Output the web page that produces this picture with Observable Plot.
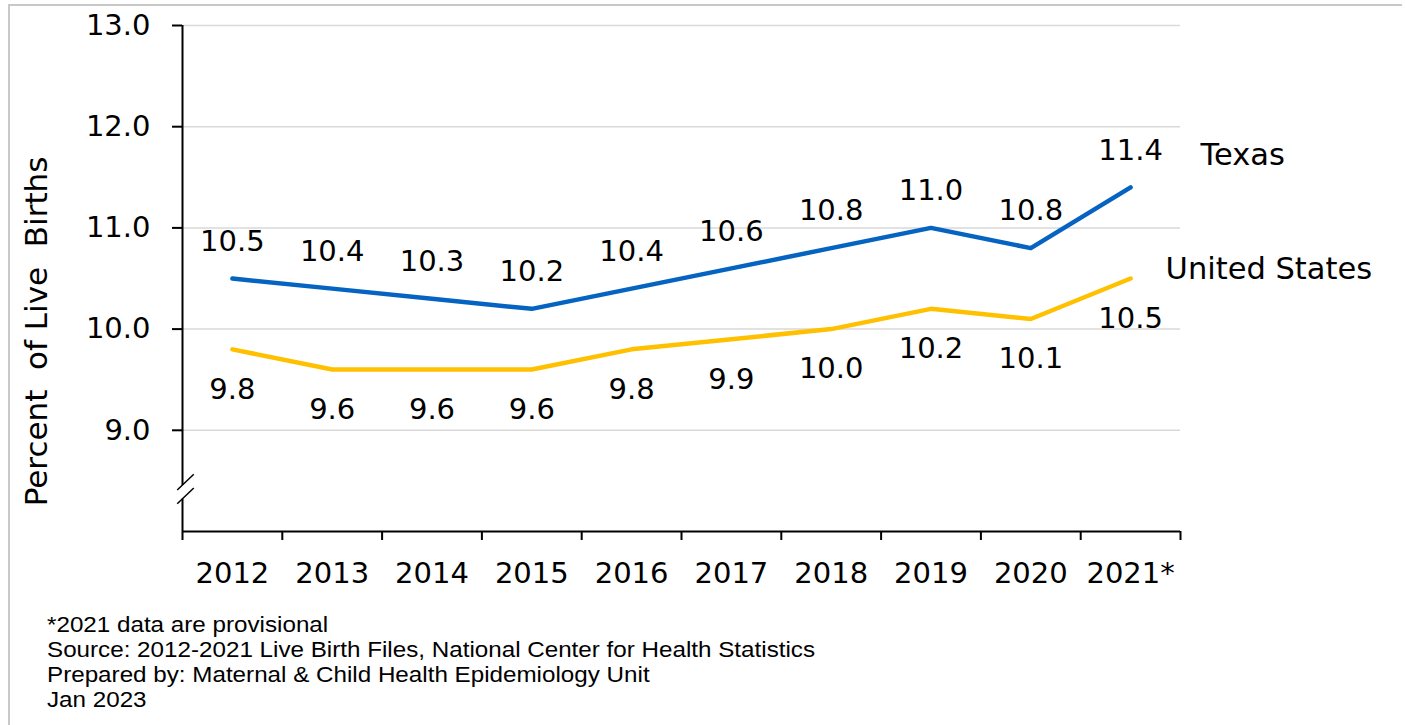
<!DOCTYPE html>
<html><head><meta charset="utf-8">
<script src="https://cdn.jsdelivr.net/npm/d3@7"></script>
<script src="https://cdn.jsdelivr.net/npm/@observablehq/plot@0.6"></script>
<style>
body{margin:0;background:#fff;}
#wrap{position:relative;width:1406px;height:725px;overflow:hidden;background:#fff;}
#frame{position:absolute;left:8px;top:4px;right:4px;bottom:-10px;border-top:2px solid #c8c8c8;border-left:2px solid #c8c8c8;}
#chart{position:absolute;left:0;top:0;}
#caption{position:absolute;left:47px;top:612px;font-family:"Liberation Sans",Arial,sans-serif;font-size:22px;line-height:25px;color:#000;white-space:nowrap;transform:scaleX(1.1);transform-origin:0 0;}
</style></head>
<body><div id="wrap"><div id="frame"></div><div id="chart"></div><div id="caption"></div></div>
<script>
const years = [2012, 2013, 2014, 2015, 2016, 2017, 2018, 2019, 2020, 2021];
const yearLabels = ["2012", "2013", "2014", "2015", "2016", "2017", "2018", "2019", "2020", "2021*"];
const texas = [10.5, 10.4, 10.3, 10.2, 10.4, 10.6, 10.8, 11.0, 10.8, 11.4];
const unitedStates = [9.8, 9.6, 9.6, 9.6, 9.8, 9.9, 10.0, 10.2, 10.1, 10.5];
const seriesNames = ["Texas", "United States"];
const seriesColors = ["#0563C1", "#FFC000"];
const yTicks = [9, 10, 11, 12, 13];
const yDomain = [8, 13];
const yTitle = "Percent  of Live  Births";
const captionLines = [
  "*2021 data are provisional",
  "Source: 2012-2021  Live Birth Files, National Center for Health Statistics",
  "Prepared by: Maternal & Child Health Epidemiology Unit",
  "Jan 2023"
];
// axis break (data units)
const breakLow = 8.32, breakHigh = 8.455;

const texasRows = years.map((y, i) => ({year: y, value: texas[i], series: seriesNames[0]}));
const usRows = years.map((y, i) => ({year: y, value: unitedStates[i], series: seriesNames[1]}));
const rows = texasRows.concat(usRows);
const xMin = years[0] - 0.5, xMax = years[years.length - 1] + 0.5;
const yMid = (yDomain[0] + yDomain[1]) / 2;
const boundaries = years.map(y => y - 0.5).concat([xMax]);
const slashes = [
  {x1: xMin - 0.053, y1: breakHigh - 0.045, x2: xMin + 0.113, y2: breakHigh + 0.11},
  {x1: xMin - 0.053, y1: breakLow - 0.045, x2: xMin + 0.113, y2: breakLow + 0.11}
];

const font = "DejaVu Sans, Verdana, sans-serif";
const numSize = 29, nameSize = 30.5;
const chart = Plot.plot({
  width: 1406,
  height: 600,
  marginLeft: 182,
  marginRight: 226,
  marginTop: 25,
  marginBottom: 69,
  style: {fontFamily: font, fontSize: "29px", color: "black", background: "transparent", overflow: "visible"},
  x: {type: "linear", domain: [xMin, xMax]},
  y: {domain: yDomain},
  color: {domain: seriesNames, range: seriesColors},
  marks: [
    Plot.ruleY(yTicks, {stroke: "#d9d9d9", strokeWidth: 1.5}),
    Plot.axisY(yTicks, {tickFormat: d => d.toFixed(1), tickSize: 10, tickPadding: 22, fontSize: numSize, strokeWidth: 2, label: null}),
    Plot.ruleX([xMin], {y1: yDomain[0], y2: breakLow, stroke: "black", strokeWidth: 2}),
    Plot.ruleX([xMin], {y1: breakHigh, y2: yDomain[1], stroke: "black", strokeWidth: 2}),
    Plot.link(slashes, {x1: "x1", y1: "y1", x2: "x2", y2: "y2", stroke: "black", strokeWidth: 1.5}),
    Plot.ruleY([yDomain[0]], {stroke: "black", strokeWidth: 2}),
    Plot.axisX(boundaries, {tickSize: 9, strokeWidth: 2, tickFormat: () => "", label: null}),
    Plot.axisX(years, {tickSize: 0, tickPadding: 31, fontSize: numSize, tickFormat: d => yearLabels[years.indexOf(d)], label: null}),
    Plot.text([yTitle], {x: xMin, y: yMid, rotate: -90, dx: -145, dy: 53, fontSize: 31, fontFamily: "DejaVu Sans"}),
    Plot.line(rows, {x: "year", y: "value", stroke: "series", strokeWidth: 4.5, strokeLinejoin: "round", strokeLinecap: "round"}),
    Plot.text(texasRows, {x: "year", y: "value", text: d => d.value.toFixed(1), dy: -37, fontSize: numSize}),
    Plot.text(usRows, {x: "year", y: "value", text: d => d.value.toFixed(1), dy: 40, fontSize: numSize}),
    Plot.text(texasRows.slice(-1), {x: "year", y: "value", text: "series", dx: 70, dy: -32, textAnchor: "start", fontSize: nameSize}),
    Plot.text(usRows.slice(-1), {x: "year", y: "value", text: "series", dx: 35, dy: -9, textAnchor: "start", fontSize: nameSize})
  ]
});
chart.querySelectorAll("text").forEach(t => { t.setAttribute("xml:space", "preserve"); t.style.whiteSpace = "pre"; });
document.getElementById("chart").appendChild(chart);
const cap = document.getElementById("caption");
captionLines.forEach(l => { const d = document.createElement("div"); d.textContent = l; cap.appendChild(d); });
</script>
</body></html>
